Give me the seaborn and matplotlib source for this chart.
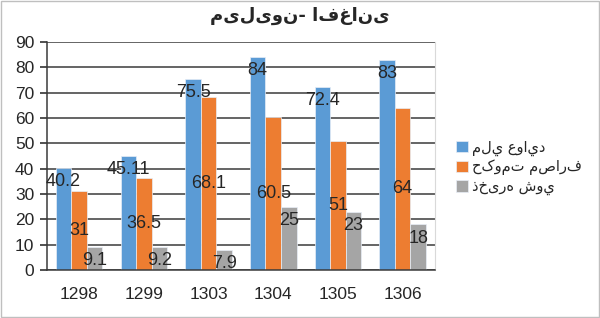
import matplotlib
matplotlib.use("Agg")
import matplotlib.pyplot as plt
import seaborn as sns
import pandas as pd

years = ["1298", "1299", "1303", "1304", "1305", "1306"]
series_names = ["ملي عوايد", "حکومت مصارف", "ذخیره شوي"]
revenue = [40.2, 45.11, 75.5, 84, 72.4, 83]
spending = [31, 36.5, 68.1, 60.5, 51, 64]
saved = [9.1, 9.2, 7.9, 25, 23, 18]
title_text = "میلیون- افغانی"
yticks = [0, 10, 20, 30, 40, 50, 60, 70, 80, 90]

colors = ["#5B9BD5", "#ED7D31", "#A5A5A5"]

df = pd.DataFrame({
    "year": years * 3,
    "series": [series_names[0]] * 6 + [series_names[1]] * 6 + [series_names[2]] * 6,
    "value": revenue + spending + saved,
})

sns.set_theme(style="white")
plt.rcParams["font.family"] = ["Liberation Sans", "DejaVu Sans"]

fig = plt.figure(figsize=(6.0, 3.18), dpi=100)
ax = fig.add_axes([0.078, 0.151, 0.647, 0.717])

sns.barplot(data=df, x="year", y="value", hue="series", palette=colors,
            width=0.72, saturation=1, ax=ax, errorbar=None, legend=True,
            edgecolor="#e8eef7", linewidth=0.5)

ax.set_ylim(0, 90)
ax.set_yticks(yticks)
ax.set_xlabel("")
ax.set_ylabel("")
ax.yaxis.grid(True, color="#3a3a3a", linewidth=1.1)
ax.set_axisbelow(True)
ax.tick_params(axis="y", length=5, color="#3a3a3a", labelsize=12.5, pad=4, left=True)
ax.tick_params(axis="x", length=0, labelsize=12.5, pad=12)
for s in ["left", "bottom"]:
    ax.spines[s].set_color("#3a3a3a")
    ax.spines[s].set_linewidth(1.1)
ax.spines["top"].set_visible(False)
ax.spines["right"].set_color("#d9d9d9")
ax.spines["right"].set_linewidth(0.8)

conts = ax.containers
ax.bar_label(conts[0], labels=[f"{v:g}" for v in revenue], label_type="edge",
             padding=-16, fontsize=13)
ax.bar_label(conts[1], labels=[f"{v:g}" for v in spending], label_type="center",
             fontsize=13)
ax.bar_label(conts[2], labels=[f"{v:g}" for v in saved], label_type="edge",
             padding=-16, fontsize=13)

handles, labels = ax.get_legend_handles_labels()
ax.legend(handles, labels, loc="center left", bbox_to_anchor=(1.02, 0.45),
          frameon=False, prop={"family": "DejaVu Sans", "size": 10.5},
          handlelength=0.8, handleheight=0.8, handletextpad=0.3, labelspacing=0.25)

fig.text(0.5, 0.95, title_text, ha="center", va="center",
         fontsize=13, fontweight="bold", family="DejaVu Sans")

fig.patches.append(plt.Rectangle((0.002, 0.003), 0.996, 0.994, transform=fig.transFigure,
                                 fill=False, edgecolor="#bfbfbf", linewidth=1))

fig.savefig("out.png", dpi=100)
